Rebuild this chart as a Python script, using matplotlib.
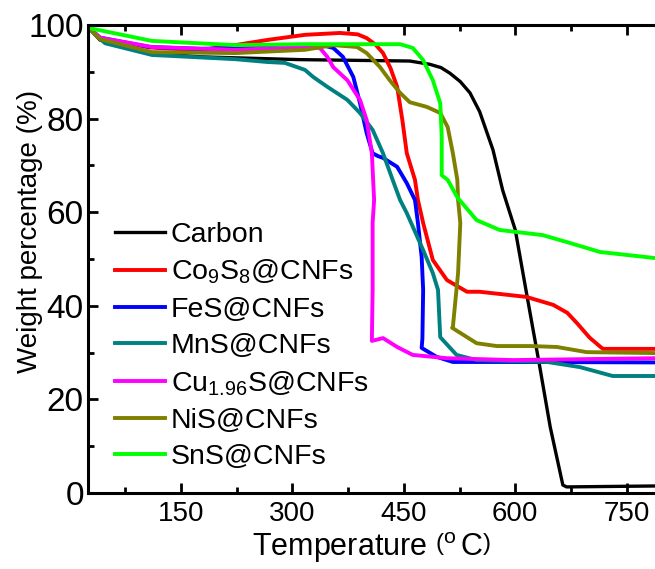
import matplotlib
matplotlib.use("Agg")
import matplotlib.pyplot as plt
from matplotlib.ticker import MultipleLocator

plt.rcParams['font.family'] = ['Liberation Sans', 'DejaVu Sans']
plt.rcParams['mathtext.fontset'] = 'custom'
plt.rcParams['mathtext.rm'] = 'Liberation Sans'
plt.rcParams['mathtext.it'] = 'Liberation Sans:italic'

# TGA curves (temperature in C, weight in %)
carbon_t = [25, 41, 108, 176, 310, 458, 485, 500, 512, 526, 539, 552, 570, 583, 600, 616, 633, 647, 664, 669, 788]
carbon_w = [99.6, 96.8, 94.0, 93.2, 92.6, 92.3, 91.6, 90.9, 89.7, 87.9, 85.5, 81.5, 73.3, 64.7, 56.2, 41.9,
            26.9, 14.1, 1.7, 1.3, 1.5]

co9s8_t = [25, 41, 108, 176, 223, 266, 317, 364, 388, 400, 412, 422, 432, 441, 448, 454, 465, 469, 476,
           489, 508, 535, 552, 615, 651, 670, 683, 700, 714, 718, 788]
co9s8_w = [99.6, 97.2, 95.2, 94.6, 95.7, 96.8, 97.9, 98.3, 98.0, 97.2, 95.8, 94.0, 90.8, 86.8, 79.7, 72.6,
           66.9, 62.6, 57.7, 49.8, 45.5, 43.0, 43.0, 41.9, 40.2, 38.5, 36.3, 33.2, 31.3, 30.8, 30.8]

fes_t = [25, 41, 108, 176, 266, 310, 345, 355, 368, 382, 391, 400, 408, 415, 422, 441, 454, 465, 469, 474, 476,
         475, 474, 494, 516, 600, 788]
fes_w = [99.6, 97.3, 95.3, 94.9, 95.3, 95.7, 95.5, 95.1, 93.2, 88.9, 83.3, 76.9, 72.6, 72.0, 71.6, 69.7, 66.2,
         62.6, 57.7, 50.4, 43.4, 33.0, 31.0, 29.1, 28.0, 28.0, 27.9]

mns_t = [25, 48, 111, 223, 266, 290, 317, 328, 347, 374, 391, 408, 422, 435, 445, 454, 476, 489, 496,
         499, 521, 548, 643, 687, 731, 788]
mns_w = [99.4, 96.1, 93.6, 92.7, 92.1, 91.9, 90.4, 88.9, 86.8, 84.0, 81.2, 77.6, 72.6, 66.9, 62.6, 59.8,
         51.9, 47.0, 43.4, 33.3, 29.5, 28.4, 28.0, 26.9, 25.0, 25.0]

cus_t = [25, 41, 111, 223, 317, 337, 347, 355, 374, 391, 400, 407, 410, 408, 408, 407, 422, 441, 462,
         508, 597, 788]
cus_w = [99.6, 97.3, 95.3, 94.7, 95.3, 95.1, 93.2, 91.0, 88.2, 84.0, 79.7, 72.6, 62.6, 57.7, 43.4, 32.5,
         33.1, 31.2, 29.5, 28.8, 28.4, 28.8]

nis_t = [25, 41, 111, 223, 317, 355, 387, 400, 418, 431, 445, 458, 481, 499, 509, 516, 522, 523, 526,
         523, 516, 515, 526, 548, 575, 620, 656, 696, 788]
nis_w = [99.6, 97.0, 94.2, 94.0, 94.7, 95.7, 95.3, 94.0, 91.0, 88.2, 85.5, 83.5, 82.5, 81.2, 78.2, 72.6,
         66.9, 62.6, 57.7, 47.0, 35.5, 35.3, 34.2, 32.0, 31.4, 31.4, 31.2, 30.1, 29.9]

sns_t = [25, 111, 223, 317, 378, 445, 462, 476, 489, 499, 501, 501, 509, 522, 525, 548, 579, 637, 674, 714, 788]
sns_w = [99.4, 96.6, 95.7, 95.9, 95.9, 95.9, 95.1, 92.5, 88.2, 83.3, 76.1, 67.9, 66.9, 63.2, 62.6, 58.3,
         56.2, 55.1, 53.4, 51.5, 50.2]

labels = ['Carbon', 'Co$_9$S$_8$@CNFs', 'FeS@CNFs', 'MnS@CNFs', 'Cu$_{1.96}$S@CNFs', 'NiS@CNFs', 'SnS@CNFs']
colors = ['#000000', '#ff0000', '#0000ff', '#008080', '#ff00ff', '#808000', '#00ff00']

fig = plt.figure(figsize=(6.55, 5.69), dpi=100)
ax = fig.add_axes([88 / 655, 76 / 569, 567 / 655, 468 / 569])

series = [(carbon_t, carbon_w), (co9s8_t, co9s8_w), (fes_t, fes_w), (mns_t, mns_w),
          (cus_t, cus_w), (nis_t, nis_w), (sns_t, sns_w)]
for (t, w), lab, c in zip(series, labels, colors):
    lw = 2.4 if c == '#000000' else 2.8
    ax.plot(t, w, color=c, lw=lw, label=lab, solid_joinstyle='round')

ax.set_xlim(25, 788)
ax.set_ylim(0, 100)
ax.xaxis.set_major_locator(MultipleLocator(150))
ax.xaxis.set_minor_locator(MultipleLocator(75))
ax.yaxis.set_major_locator(MultipleLocator(20))
ax.yaxis.set_minor_locator(MultipleLocator(10))

for s in ['left', 'bottom', 'top']:
    ax.spines[s].set_linewidth(2.2)
ax.spines['right'].set_visible(False)

ax.tick_params(which='both', direction='in', top=True, right=False, width=2)
ax.tick_params(which='major', length=7)
ax.tick_params(which='minor', length=4)
ax.tick_params(axis='x', which='major', labelsize=20, pad=6)
ax.tick_params(axis='y', which='major', labelsize=24, pad=3)
ax.xaxis.set_tick_params(which='both', labeltop=False)

ax.set_xlabel(r'Temperature $\left(^{\mathrm{o}}\,\mathrm{C}\right)$', fontsize=22, labelpad=2)
ax.set_ylabel('Weight percentage (%)', fontsize=20)
ax.yaxis.set_label_coords(-0.079, 0.558)

ax.legend(loc='upper left', bbox_to_anchor=(0.048, 0.58), frameon=False, fontsize=20.5,
          handlelength=1.75, handletextpad=0.2, labelspacing=0.36, borderpad=0, borderaxespad=0)

fig.savefig('out.png', dpi=100)
